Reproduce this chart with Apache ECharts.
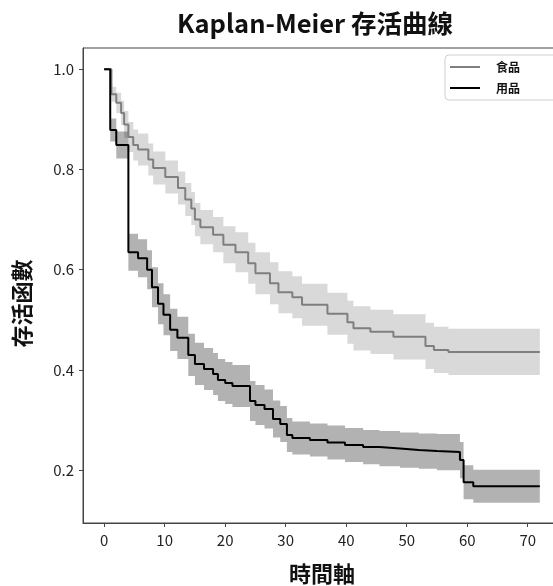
<!DOCTYPE html>
<html>
<head>
<meta charset="utf-8">
<script src="https://cdn.jsdelivr.net/npm/echarts@6/dist/echarts.min.js"></script>
<style>
  html, body { margin: 0; padding: 0; background: #fff; }
  #chart { width: 553px; height: 586px; }
</style>
</head>
<body>
<div id="chart"></div>
<script>
// 食品 (food) group
var foodTime  = [0, 1.2, 2.0, 2.8, 3.3, 4.0, 4.8, 5.6, 7.3, 8.1, 10.1, 12.2, 13.4, 14.4, 15.0, 15.9, 18.0, 19.7, 21.7, 23.8, 25.0, 27.4, 28.8, 31.1, 32.7, 36.9, 40.2, 41.2, 44.0, 47.8, 53.1, 54.5, 56.9, 72.0];
var foodSurv  = [1.0, 0.950, 0.933, 0.913, 0.890, 0.865, 0.849, 0.840, 0.820, 0.803, 0.785, 0.763, 0.740, 0.722, 0.700, 0.685, 0.670, 0.650, 0.635, 0.613, 0.593, 0.573, 0.555, 0.545, 0.530, 0.512, 0.495, 0.483, 0.476, 0.466, 0.448, 0.440, 0.436, 0.436];
var foodUpper = [1.0, 0.965, 0.953, 0.937, 0.917, 0.895, 0.880, 0.872, 0.852, 0.836, 0.818, 0.796, 0.773, 0.755, 0.733, 0.719, 0.705, 0.687, 0.675, 0.654, 0.635, 0.615, 0.597, 0.587, 0.572, 0.554, 0.538, 0.527, 0.520, 0.511, 0.494, 0.486, 0.482, 0.482];
var foodLower = [1.0, 0.935, 0.913, 0.889, 0.863, 0.835, 0.818, 0.808, 0.788, 0.770, 0.752, 0.730, 0.707, 0.689, 0.667, 0.651, 0.635, 0.613, 0.595, 0.572, 0.551, 0.531, 0.513, 0.503, 0.488, 0.470, 0.452, 0.439, 0.432, 0.421, 0.402, 0.394, 0.390, 0.390];

// 用品 (goods) group
var goodsTime  = [0, 1.0, 2.0, 4.0, 5.6, 7.1, 7.9, 8.9, 9.8, 10.9, 12.1, 13.9, 15.0, 16.5, 18.0, 18.8, 20.0, 21.2, 24.1, 25.0, 26.5, 27.9, 29.1, 30.2, 31.1, 34.0, 36.9, 39.8, 42.8, 45.5, 48.9, 52.0, 55.0, 58.8, 59.4, 61.0, 72.0];
var goodsSurv  = [1.0, 0.879, 0.849, 0.635, 0.623, 0.600, 0.565, 0.532, 0.510, 0.480, 0.464, 0.430, 0.412, 0.402, 0.392, 0.380, 0.374, 0.368, 0.338, 0.330, 0.322, 0.302, 0.292, 0.270, 0.264, 0.260, 0.255, 0.250, 0.246, 0.243, 0.240, 0.238, 0.236, 0.220, 0.176, 0.168, 0.168];
var goodsUpper = [1.0, 0.902, 0.876, 0.672, 0.661, 0.639, 0.605, 0.573, 0.551, 0.522, 0.506, 0.472, 0.454, 0.444, 0.434, 0.422, 0.416, 0.410, 0.378, 0.370, 0.361, 0.339, 0.328, 0.304, 0.297, 0.293, 0.289, 0.284, 0.280, 0.278, 0.275, 0.273, 0.272, 0.256, 0.210, 0.201, 0.201];
var goodsLower = [1.0, 0.856, 0.822, 0.598, 0.585, 0.561, 0.525, 0.491, 0.469, 0.438, 0.422, 0.388, 0.370, 0.360, 0.350, 0.338, 0.332, 0.326, 0.298, 0.290, 0.283, 0.265, 0.256, 0.236, 0.231, 0.227, 0.221, 0.216, 0.212, 0.208, 0.205, 0.203, 0.200, 0.184, 0.142, 0.135, 0.135];

var xTicks = [0, 10, 20, 30, 40, 50, 60, 70];
var yTicks = [0.2, 0.4, 0.6, 0.8, 1.0];

var FONT = '"Noto Sans CJK TC", "Noto Sans CJK SC", "Noto Sans", sans-serif';

function pairs(xs, ys) {
  return xs.map(function(x, i) { return [x, ys[i]]; });
}

// confidence band as one step-shaped polygon, mapped through the axes
function band(xs, lo, hi, fill) {
  return {
    type: 'custom', silent: true, clip: true, z: 1,
    data: [[xs[0], hi[0]]],
    renderItem: function(params, api) {
      var pts = [], i, n = xs.length;
      for (i = 0; i < n; i++) {
        pts.push(api.coord([xs[i], hi[i]]));
        if (i + 1 < n) pts.push(api.coord([xs[i + 1], hi[i]]));
      }
      for (i = n - 1; i >= 0; i--) {
        if (i + 1 < n) pts.push(api.coord([xs[i + 1], lo[i]]));
        pts.push(api.coord([xs[i], lo[i]]));
      }
      return { type: 'polygon', shape: { points: pts }, style: { fill: fill } };
    }
  };
}

var chart = echarts.init(document.getElementById('chart'), null, { renderer: 'canvas' });
chart.setOption({
  animation: false,
  backgroundColor: '#fff',
  textStyle: { fontFamily: FONT },
  title: {
    text: 'Kaplan-Meier 存活曲線',
    left: 310, top: 6, textAlign: 'center',
    textStyle: { fontFamily: FONT, fontSize: 25.5, fontWeight: 'bold', color: '#111' }
  },
  legend: {
    data: ['食品', '用品'],
    orient: 'vertical',
    left: 445, top: 55,
    padding: [5, 40, 5, 5],
    icon: 'rect',
    itemWidth: 30, itemHeight: 2, itemGap: 7,
    backgroundColor: '#fff',
    borderColor: '#d0d0d0', borderWidth: 1, borderRadius: 4,
    textStyle: { fontFamily: FONT, fontSize: 12, fontWeight: 'bold', color: '#111', lineHeight: 14, padding: [0, 0, 0, 11] }
  },
  grid: {
    left: 83, top: 48, width: 478, height: 475,
    show: true, borderColor: '#444', borderWidth: 1,
    containLabel: false, outerBoundsMode: 'none'
  },
  xAxis: {
    type: 'value', min: -3.5, max: 75.5,
    name: '時間軸', nameLocation: 'middle', nameGap: 40,
    nameTextStyle: { fontFamily: FONT, fontSize: 22, fontWeight: 'bold', color: '#111' },
    axisLine: { show: true, onZero: false, lineStyle: { color: '#444' } },
    axisTick: { show: true, customValues: xTicks, length: 4, lineStyle: { color: '#444' } },
    axisLabel: { customValues: xTicks, fontSize: 15, color: '#222', margin: 10, fontFamily: FONT },
    splitLine: { show: false }
  },
  yAxis: {
    type: 'value', min: 0.0945, max: 1.0425,
    name: '存活函數', nameLocation: 'middle', nameGap: 50, nameRotate: 90,
    nameTextStyle: { fontFamily: FONT, fontSize: 22, fontWeight: 'bold', color: '#111', padding: [0, 36, 0, 0] },
    axisLine: { show: true, onZero: false, lineStyle: { color: '#444' } },
    axisTick: { show: true, customValues: yTicks, length: 4, lineStyle: { color: '#444' } },
    axisLabel: {
      customValues: yTicks, fontSize: 15, color: '#222', margin: 9, fontFamily: FONT,
      formatter: function(v) { return v.toFixed(1); }
    },
    splitLine: { show: false }
  },
  series: [
    band(foodTime, foodLower, foodUpper, 'rgba(128,128,128,0.3)'),
    band(goodsTime, goodsLower, goodsUpper, 'rgba(0,0,0,0.3)'),
    {
      name: '食品', type: 'line', step: 'end', symbol: 'none', z: 3,
      data: pairs(foodTime, foodSurv),
      color: '#7f7f7f',
      lineStyle: { color: '#7f7f7f', width: 2 }
    }, {
      name: '用品', type: 'line', step: 'end', symbol: 'none', z: 4,
      data: pairs(goodsTime, goodsSurv),
      color: '#000',
      lineStyle: { color: '#000', width: 2 }
    }
  ]
});
window.addEventListener('resize', function() { chart.resize(); });
</script>
</body>
</html>
